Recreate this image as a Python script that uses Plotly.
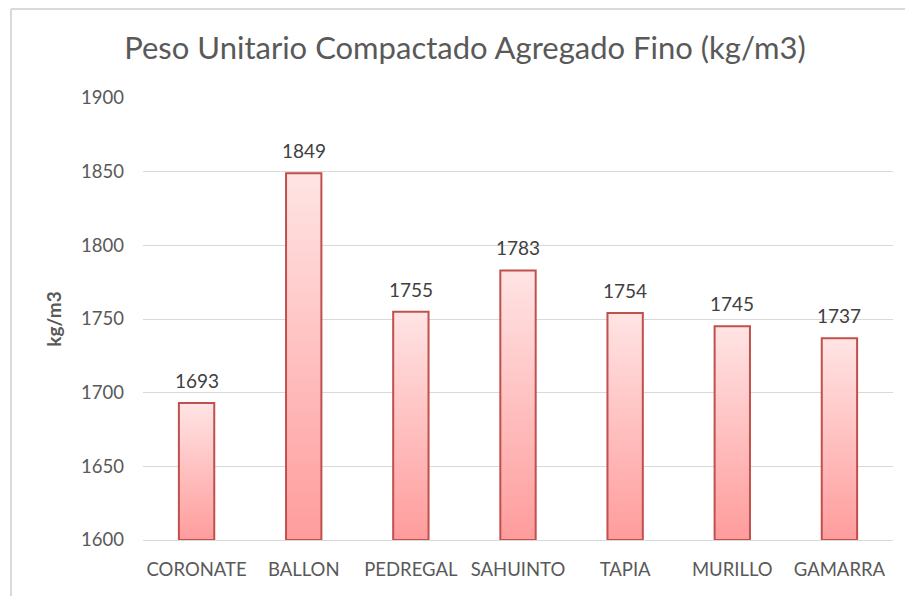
import plotly.graph_objects as go

categories = ["CORONATE", "BALLON", "PEDREGAL", "SAHUINTO", "TAPIA", "MURILLO", "GAMARRA"]
values = [1693, 1849, 1755, 1783, 1754, 1745, 1737]
y_ticks = [1600, 1650, 1700, 1750, 1800, 1850, 1900]
y_min, y_max = 1600, 1900

FONT = "Lato, Open Sans, sans-serif"
L, R, T, B = 135, 20, 90, 56
W, H = 905, 588
PW, PH = W - L - R, H - T - B

half_w = 0.165
fig = go.Figure()
for i, v in enumerate(values):
    fig.add_trace(go.Scatter(
        x=[i - half_w, i + half_w, i + half_w, i - half_w, i - half_w],
        y=[y_min, y_min, v, v, y_min],
        mode="lines", fill="toself",
        line=dict(color="#C0504D", width=2),
        fillgradient=dict(type="vertical",
                          colorscale=[[0, "#FF9C9C"], [1, "#FFE4E4"]]),
        hoverinfo="skip", showlegend=False,
    ))

annotations = [
    dict(x=i, y=v, xref="x", yref="y", text=str(v), showarrow=False,
         yanchor="bottom", yshift=9,
         font=dict(family=FONT, size=19, color="#404040"))
    for i, v in enumerate(values)
]

fig.update_layout(
    width=W, height=H,
    margin=dict(l=L, r=R, t=T, b=B),
    paper_bgcolor="white", plot_bgcolor="white",
    title=dict(text="Peso Unitario Compactado Agregado Fino (kg/m3)",
               x=0.505, xref="container", y=1 - 40 / H, yref="container",
               xanchor="center", yanchor="middle",
               font=dict(family=FONT, size=31, color="#595959")),
    font=dict(family=FONT, color="#595959"),
    annotations=annotations,
    xaxis=dict(range=[-0.5, len(categories) - 0.5], tickmode="array",
               tickvals=list(range(len(categories))), ticktext=categories,
               showgrid=False, zeroline=False, showline=True, linecolor="#D9D9D9", linewidth=1,
               ticks="", ticklabelstandoff=13, tickfont=dict(size=18.5, color="#595959")),
    yaxis=dict(range=[y_min, y_max], tickmode="array", tickvals=y_ticks,
               showgrid=True, gridcolor="#D9D9D9", gridwidth=1, zeroline=False,
               ticks="", ticklabelstandoff=18, tickfont=dict(size=18.5, color="#595959"),
               title=dict(text="<b>kg/m3</b>", font=dict(family=FONT, size=19, color="#595959"),
                          standoff=14)),
    shapes=[
        dict(type="line", xref="paper", yref="paper", x0=(3 - L) / PW, x1=(W - L) / PW,
             y0=(T + PH - 1) / PH, y1=(T + PH - 1) / PH, line=dict(color="#D9D9D9", width=2)),
        dict(type="line", xref="paper", yref="paper", x0=(3 - L) / PW, x1=(3 - L) / PW,
             y0=(T + PH - 1) / PH, y1=(T + PH - H) / PH, line=dict(color="#D9D9D9", width=2)),
    ],
)

fig.write_html("out.html")
